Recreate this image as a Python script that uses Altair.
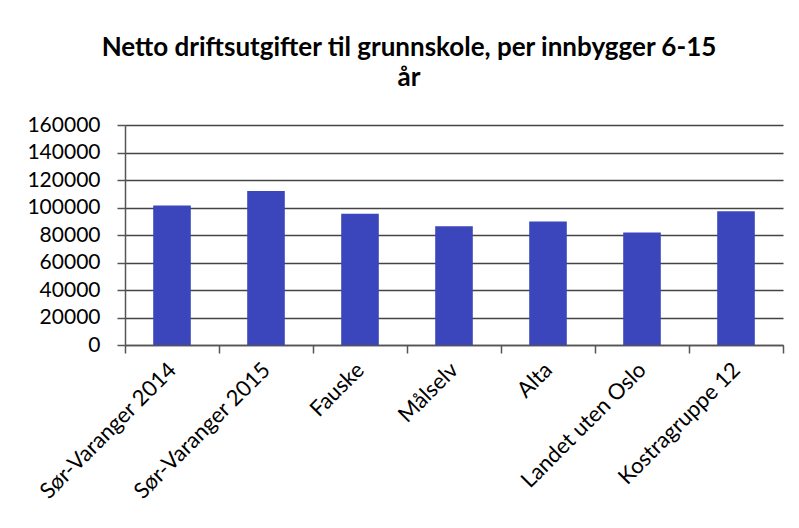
import altair as alt
import pandas as pd

categories = ["Sør-Varanger 2014", "Sør-Varanger 2015", "Fauske", "Målselv",
              "Alta", "Landet uten Oslo", "Kostragruppe 12"]
values = [101500, 112000, 95500, 86400, 89900, 81800, 97200]
y_ticks = [0, 20000, 40000, 60000, 80000, 100000, 120000, 140000, 160000]
title_lines = ["Netto driftsutgifter til grunnskole, per innbygger 6-15", "år"]

df = pd.DataFrame({"kategori": categories, "verdi": values})

font = "Lato"

chart = alt.Chart(df).mark_bar(color="#3b46bd", width=alt.RelativeBandSize(0.4)).encode(
    x=alt.X("kategori:N", sort=categories, title=None,
            scale=alt.Scale(paddingInner=0, paddingOuter=0),
            axis=alt.Axis(labelAngle=-45, labelAlign="right", labelBaseline="middle",
                          labelFontSize=22, labelFont=font, labelColor="#000", labelLimit=400,
                          tickBand="extent", tickColor="#555", tickSize=8, tickWidth=1.5,
                          domainColor="#555", domainWidth=1.5, labelPadding=13)),
    y=alt.Y("verdi:Q", title=None, scale=alt.Scale(domain=[0, 160000]),
            axis=alt.Axis(values=y_ticks, format="d", grid=True, gridColor="#444",
                          gridWidth=1.6, labelFontSize=21, labelFont=font, labelColor="#000",
                          tickColor="#555", tickSize=8, tickWidth=1.5,
                          domainColor="#555", domainWidth=1.5, labelPadding=17)),
).properties(
    width=658, height=220,
    title=alt.TitleParams(text=title_lines, font=font, fontSize=26, fontWeight="bold",
                          color="#000", lineHeight=30, anchor="middle", dx=-45, offset=23),
    padding={"left": 117, "top": 117, "right": 8, "bottom": 175},
    autosize="none",
).configure_view(stroke=None)

chart.save("out.html", embed_options={"renderer": "svg", "actions": False})
